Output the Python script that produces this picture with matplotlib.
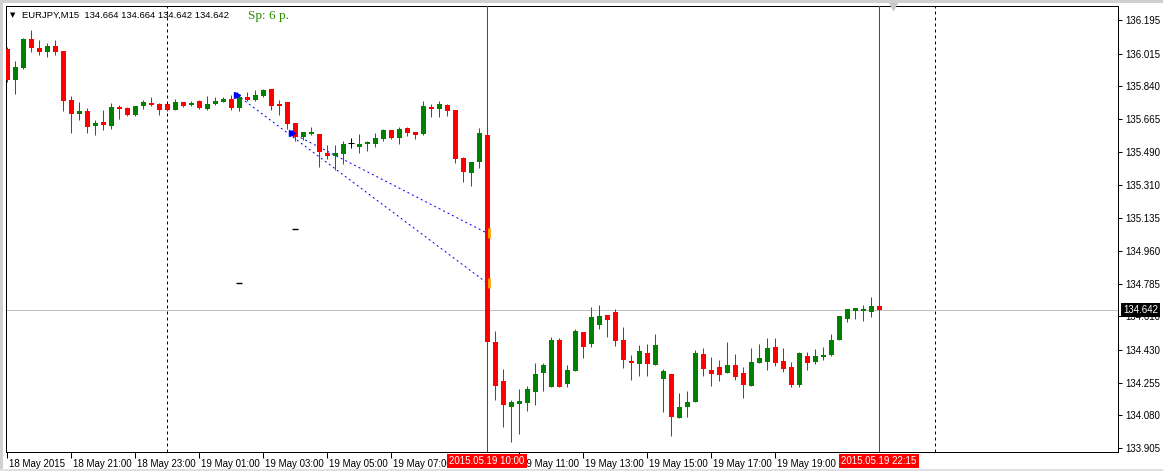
"""EURJPY M15 candlestick chart, MetaTrader style."""

import matplotlib
matplotlib.use('Agg')
import matplotlib.pyplot as plt
import matplotlib.transforms as mtransforms
import numpy as np

# OHLC, one entry per 15 min bar, first visible bar = 18 May 19:00
opens = [136.040, 135.874, 135.938, 136.093, 136.045, 136.024, 136.056, 136.029, 135.767, 135.692,
         135.708, 135.628, 135.649, 135.628, 135.730, 135.724, 135.687, 135.735, 135.751, 135.746,
         135.746, 135.713, 135.756, 135.740, 135.762, 135.719, 135.746, 135.756, 135.772, 135.724,
         135.783, 135.767, 135.788, 135.826, 135.740, 135.756, 135.644, 135.569, 135.585, 135.585,
         135.483, 135.467, 135.478, 135.537, 135.515, 135.532, 135.532, 135.558, 135.606, 135.564,
         135.617, 135.596, 135.585, 135.724, 135.719, 135.740, 135.713, 135.457, 135.376, 135.435,
         135.580, 134.472, 134.263, 134.124, 134.140, 134.146, 134.204, 134.306, 134.231, 134.483,
         134.247, 134.317, 134.526, 134.461, 134.563, 134.617, 134.633, 134.483, 134.370, 134.354,
         134.413, 134.349, 134.274, 134.301, 134.066, 134.124, 134.151, 134.408, 134.322, 134.338,
         134.306, 134.349, 134.306, 134.237, 134.360, 134.365, 134.446, 134.370, 134.338, 134.242,
         134.397, 134.365, 134.392, 134.403, 134.483, 134.595, 134.638, 134.638, 134.633, 134.664]
highs = [136.051, 135.976, 136.099, 136.141, 136.088, 136.072, 136.088, 136.029, 135.788, 135.756,
         135.724, 135.660, 135.713, 135.751, 135.740, 135.730, 135.735, 135.767, 135.783, 135.751,
         135.746, 135.772, 135.756, 135.762, 135.767, 135.788, 135.783, 135.783, 135.794, 135.794,
         135.810, 135.820, 135.826, 135.826, 135.767, 135.756, 135.644, 135.596, 135.622, 135.585,
         135.526, 135.526, 135.548, 135.564, 135.585, 135.548, 135.590, 135.612, 135.606, 135.622,
         135.622, 135.596, 135.762, 135.746, 135.762, 135.746, 135.713, 135.462, 135.435, 135.617,
         135.596, 134.531, 134.328, 134.162, 134.221, 134.237, 134.360, 134.360, 134.499, 134.494,
         134.349, 134.542, 134.526, 134.659, 134.670, 134.617, 134.649, 134.552, 134.403, 134.456,
         134.461, 134.515, 134.328, 134.301, 134.199, 134.210, 134.429, 134.440, 134.392, 134.376,
         134.472, 134.408, 134.338, 134.440, 134.461, 134.494, 134.494, 134.440, 134.365, 134.419,
         134.419, 134.435, 134.446, 134.515, 134.611, 134.649, 134.654, 134.670, 134.713, 134.664]
lows = [135.863, 135.799, 135.933, 136.024, 136.008, 135.997, 136.008, 135.708, 135.590, 135.660,
        135.590, 135.580, 135.606, 135.612, 135.665, 135.681, 135.681, 135.719, 135.735, 135.687,
        135.708, 135.713, 135.730, 135.735, 135.719, 135.713, 135.740, 135.756, 135.713, 135.708,
        135.762, 135.762, 135.783, 135.713, 135.687, 135.612, 135.548, 135.553, 135.580, 135.409,
        135.451, 135.392, 135.425, 135.510, 135.483, 135.494, 135.515, 135.548, 135.558, 135.532,
        135.574, 135.558, 135.580, 135.676, 135.676, 135.681, 135.430, 135.328, 135.307, 135.403,
        133.948, 134.162, 134.017, 133.937, 133.980, 134.103, 134.135, 134.210, 134.231, 134.231,
        134.231, 134.317, 134.386, 134.446, 134.542, 134.499, 134.451, 134.333, 134.269, 134.290,
        134.290, 134.349, 134.098, 133.969, 134.066, 134.071, 134.151, 134.290, 134.237, 134.263,
        134.306, 134.269, 134.173, 134.237, 134.360, 134.322, 134.344, 134.312, 134.231, 134.231,
        134.322, 134.354, 134.376, 134.397, 134.483, 134.579, 134.595, 134.584, 134.606, 134.642]
closes = [135.874, 135.944, 136.093, 136.045, 136.024, 136.056, 136.024, 135.762, 135.692, 135.708,
          135.622, 135.644, 135.633, 135.730, 135.719, 135.687, 135.735, 135.756, 135.740, 135.713,
          135.713, 135.756, 135.735, 135.751, 135.724, 135.746, 135.762, 135.772, 135.724, 135.783,
          135.767, 135.794, 135.820, 135.735, 135.735, 135.638, 135.569, 135.596, 135.596, 135.489,
          135.467, 135.483, 135.532, 135.537, 135.532, 135.542, 135.564, 135.606, 135.564, 135.612,
          135.590, 135.580, 135.735, 135.719, 135.746, 135.708, 135.451, 135.382, 135.435, 135.590,
          134.472, 134.237, 134.135, 134.151, 134.156, 134.221, 134.301, 134.349, 134.483, 134.231,
          134.322, 134.531, 134.446, 134.606, 134.611, 134.590, 134.478, 134.376, 134.360, 134.424,
          134.354, 134.456, 134.317, 134.071, 134.124, 134.151, 134.413, 134.328, 134.301, 134.296,
          134.349, 134.285, 134.242, 134.365, 134.386, 134.440, 134.360, 134.328, 134.242, 134.413,
          134.360, 134.397, 134.403, 134.483, 134.611, 134.649, 134.654, 134.649, 134.665, 134.642]

# time axis labels (bar index -> text); 09:00 and 21:00 sit under the red boxes
time_tick_bars = [0, 8, 16, 24, 32, 40, 48, 64, 72, 80, 88, 96]
time_tick_labels = ['18 May 2015', '18 May 21:00', '18 May 23:00', '19 May 01:00', '19 May 03:00',
                    '19 May 05:00', '19 May 07:00', '19 May 11:00', '19 May 13:00',
                    '19 May 15:00', '19 May 17:00', '19 May 19:00']
price_ticks = [136.195, 136.015, 135.840, 135.665, 135.490, 135.310, 135.135,
               134.960, 134.785, 134.610, 134.430, 134.255, 134.080, 133.905]

# chart objects
vline_bars = [60, 109]
vline_labels = ['2015.05.19 10:00', '2015.05.19 22:15']
separator_bars = [20, 116]
bid = 134.642
trend_a_x, trend_a_y = [28.75, 60.0], [135.794, 134.788]
trend_b_x, trend_b_y = [35.6, 60.0], [135.590, 135.055]
arrow_x, arrow_y = [28.75, 35.6], [135.794, 135.590]
dash_x, dash_y = [36.0, 29.0], [135.077, 134.788]
header = 'EURJPY,M15  134.664 134.664 134.642 134.642'
spread = 'Sp: 6 p.'

BULL = '#008000'
BEAR = '#ff0000'

plt.rcParams['font.family'] = ['Liberation Sans', 'DejaVu Sans']

W, H = 1163, 471
fig = plt.figure(figsize=(W / 100, H / 100), dpi=100)
ax = fig.add_axes([6 / W, 19 / H, 1112 / W, 446 / H])

o = np.array(opens)
h = np.array(highs)
l = np.array(lows)
c = np.array(closes)
x = np.arange(len(o))
up = c > o
dn = c < o
dj = c == o

px = 0.72  # one pixel in points
for mask, col in ((up, BULL), (dn, BEAR), (dj, 'black')):
    ax.vlines(x[mask], l[mask], h[mask], color=col, lw=px, zorder=3)
lo = np.minimum(o, c)
ht = np.maximum(np.abs(c - o), 0.009)
ax.bar(x[up], ht[up], bottom=lo[up], width=0.625, color=BULL, lw=0, zorder=3)
ax.bar(x[dn], ht[dn], bottom=lo[dn], width=0.625, color=BEAR, lw=0, zorder=3)
ax.hlines(o[dj], x[dj] - 0.35, x[dj] + 0.35, color='black', lw=px, zorder=3)

# bid line
ax.axhline(bid, color='#c0c0c0', lw=px, zorder=1)

# vertical lines and period separators
for b in vline_bars:
    ax.axvline(b, color='red', lw=px, zorder=4)
for b in separator_bars:
    ax.axvline(b, color='black', lw=px, ls=(0, (3, 3)), zorder=1)

# trend lines
for tx, ty in ((trend_a_x, trend_a_y), (trend_b_x, trend_b_y)):
    ax.plot(tx, ty, color='blue', lw=px, ls=(0, (2, 3)), zorder=2)
    ax.plot([tx[1] + 0.3], [ty[1]], marker='|', ms=7, mew=2, color='orange', zorder=5)
ax.plot(arrow_x, arrow_y, ls='none', marker='>', ms=4, color='blue', zorder=5)
ax.plot(arrow_x, arrow_y, ls='none', marker='+', ms=5, mew=1, color='blue', zorder=5)
ax.plot(dash_x, dash_y, ls='none', marker='_', ms=5, mew=1, color='black', zorder=5)

# chart shift marker
ax.plot([110.8], [1.0], transform=mtransforms.blended_transform_factory(ax.transData, ax.transAxes),
        marker='v', ms=6, color='#c8c8c8', clip_on=False, zorder=6)

ax.set_xlim(-0.125, 138.875)
ax.set_ylim(133.884, 136.270)

# axes look
for s in ax.spines.values():
    s.set_linewidth(px)
ax.yaxis.tick_right()
ax.set_yticks(price_ticks, [f'{p:.3f}' for p in price_ticks])
ax.tick_params(axis='y', right=True, left=False, direction='out', length=3, width=px,
               pad=2, labelsize=7)
ax.set_xticks(time_tick_bars, time_tick_labels)
ax.tick_params(axis='x', direction='out', length=4, width=px, pad=1, labelsize=7)
shift = mtransforms.ScaledTranslation(2 / 100, 0, fig.dpi_scale_trans)
for lbl in ax.get_xticklabels():
    lbl.set_horizontalalignment('left')
    lbl.set_transform(lbl.get_transform() + shift)

# red time labels of the vertical lines
for b, txt in zip(vline_bars, vline_labels):
    ax.annotate(txt, xy=(b, 0), xycoords=('data', 'axes fraction'), xytext=(0, -9),
                textcoords='offset pixels', ha='center', va='center', fontsize=7, color='white',
                bbox=dict(boxstyle='square,pad=0.25', fc='red', ec='none'),
                annotation_clip=False, zorder=10)

# current price label
ax.annotate(f'{bid:.3f}', xy=(1, bid), xycoords=('axes fraction', 'data'), xytext=(5, 0),
            textcoords='offset pixels', ha='left', va='center', fontsize=7, color='white',
            bbox=dict(boxstyle='square,pad=0.2', fc='black', ec='none'),
            annotation_clip=False, zorder=10)

# header
ax.annotate('\u25bc', xy=(0, 1), xycoords='axes fraction', xytext=(7, -9),
            textcoords='offset pixels', ha='center', va='center', fontsize=5,
            family=['DejaVu Sans'])
ax.annotate(header, xy=(0, 1), xycoords='axes fraction', xytext=(16, -9),
            textcoords='offset pixels', ha='left', va='center', fontsize=6.8)
ax.annotate(spread, xy=(0, 1), xycoords='axes fraction', xytext=(242, -10),
            textcoords='offset pixels', ha='left', va='center', fontsize=9.5,
            family=['Liberation Serif'], color='#2a8a00')

# window frame
fig.patches.append(plt.Rectangle((0, 0), 3 / W, 1, transform=fig.transFigure,
                                 fc='#d0d0d0', ec='none', zorder=0))
fig.patches.append(plt.Rectangle((0, 1 - 3 / H), 1, 3 / H, transform=fig.transFigure,
                                 fc='#d0d0d0', ec='none', zorder=0))
fig.patches.append(plt.Rectangle((0, 0), 1, 2 / H, transform=fig.transFigure,
                                 fc='#e0e0e0', ec='none', zorder=0))

fig.savefig('out.png', dpi=100)
